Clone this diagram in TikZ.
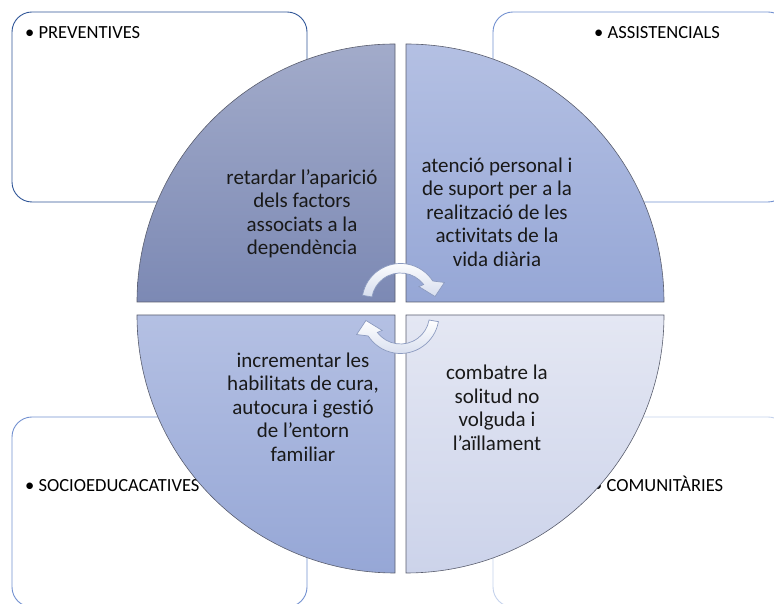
\documentclass[tikz,border=0pt]{standalone}
\usepackage{fontspec}
\setmainfont{Carlito}[Ligatures=NoCommon]
\usetikzlibrary{positioning}
\definecolor{BoxDark}{RGB}{47,85,151}
\definecolor{BoxMid}{RGB}{114,144,208}
\definecolor{BoxLight}{RGB}{196,210,236}
\definecolor{QuadEdge}{RGB}{90,94,110}
\definecolor{SlateTop}{RGB}{162,171,202}
\definecolor{SlateBot}{RGB}{124,137,180}
\definecolor{BlueTop}{RGB}{180,192,227}
\definecolor{BlueBot}{RGB}{150,167,214}
\definecolor{PaleTop}{RGB}{228,231,243}
\definecolor{PaleBot}{RGB}{204,211,234}
\definecolor{TurnEdge}{RGB}{140,155,192}
\definecolor{TurnBlue}{RGB}{214,221,238}

\begin{document}
\begin{tikzpicture}[
  x=1pt, y=1pt,
  panel/.style={rounded corners=20pt, line width=0.9pt},
  tag/.style={anchor=base west, inner sep=0pt, font=\fontsize{18.5}{22}\selectfont},
  quad/.style={draw=QuadEdge, line width=0.6pt},
  body/.style={align=center, inner sep=0pt, text=black!90, font=\fontsize{21}{23.5}\selectfont},
  turn/.style={draw=TurnEdge, line width=0.7pt, top color=white, bottom color=TurnBlue}
]
  \useasboundingbox (0,0) rectangle (774,604);

  % outer panels
  \draw[panel, draw=BoxDark] (12,402) rectangle (307,592);
  \draw[panel, draw=BoxMid] (493,402) rectangle (788,592);
  \draw[panel, draw=BoxMid] (12,-3) rectangle (307,187);
  \draw[panel, draw=BoxLight] (493,-3) rectangle (788,187);

  \node[tag] (prev) at (25,565.7) {• PREVENTIVES};
  \node[tag] (assi) at (594,565.7) {• ASSISTENCIALS};
  \node[tag] (soci) at (25,112.3) {• SOCIOEDUCACATIVES};
  \node[tag] (comu) at (593,112.3) {• COMUNITÀRIES};

  % quadrants
  \path[quad, top color=SlateTop, bottom color=SlateBot]
    (395,302) -- (137,302) arc[start angle=180, end angle=90, radius=258] -- cycle;
  \path[quad, top color=BlueTop, bottom color=BlueBot]
    (406,302) -- (406,560) arc[start angle=90, end angle=0, radius=258] -- cycle;
  \path[quad, top color=BlueTop, bottom color=BlueBot]
    (395,289) -- (395,31) arc[start angle=270, end angle=180, radius=258] -- cycle;
  \path[quad, top color=PaleTop, bottom color=PaleBot]
    (406,289) -- (664,289) arc[start angle=0, end angle=-90, radius=258] -- cycle;

  \node[body] (ret) at (302,390) {retardar l’aparició\\dels factors\\associats a la\\dependència};
  \node[body] (ate) at (497,392) {atenció personal i\\de suport per a la\\realització de les\\activitats de la\\vida diària};
  \node[body] (inc) at (303,197) {incrementar les\\habilitats de cura,\\autocura i gestió\\de l’entorn\\familiar};
  \node[body] (com) at (497,196) {combatre la\\solitud no\\volguda i\\l’aïllament};

  % circular arrows
  \foreach \rot in {0,180}{
    \begin{scope}[shift={(400.5,295.5)}, rotate=\rot, shift={(0,6.5)}]
      \path[turn] (170:38.5) arc[start angle=170, end angle=33, radius=38.5]
        -- (24:48) -- (9:35) -- (40:24) -- (37:29)
        arc[start angle=37, end angle=170, radius=29] -- cycle;
    \end{scope}
  }
\end{tikzpicture}
\end{document}
